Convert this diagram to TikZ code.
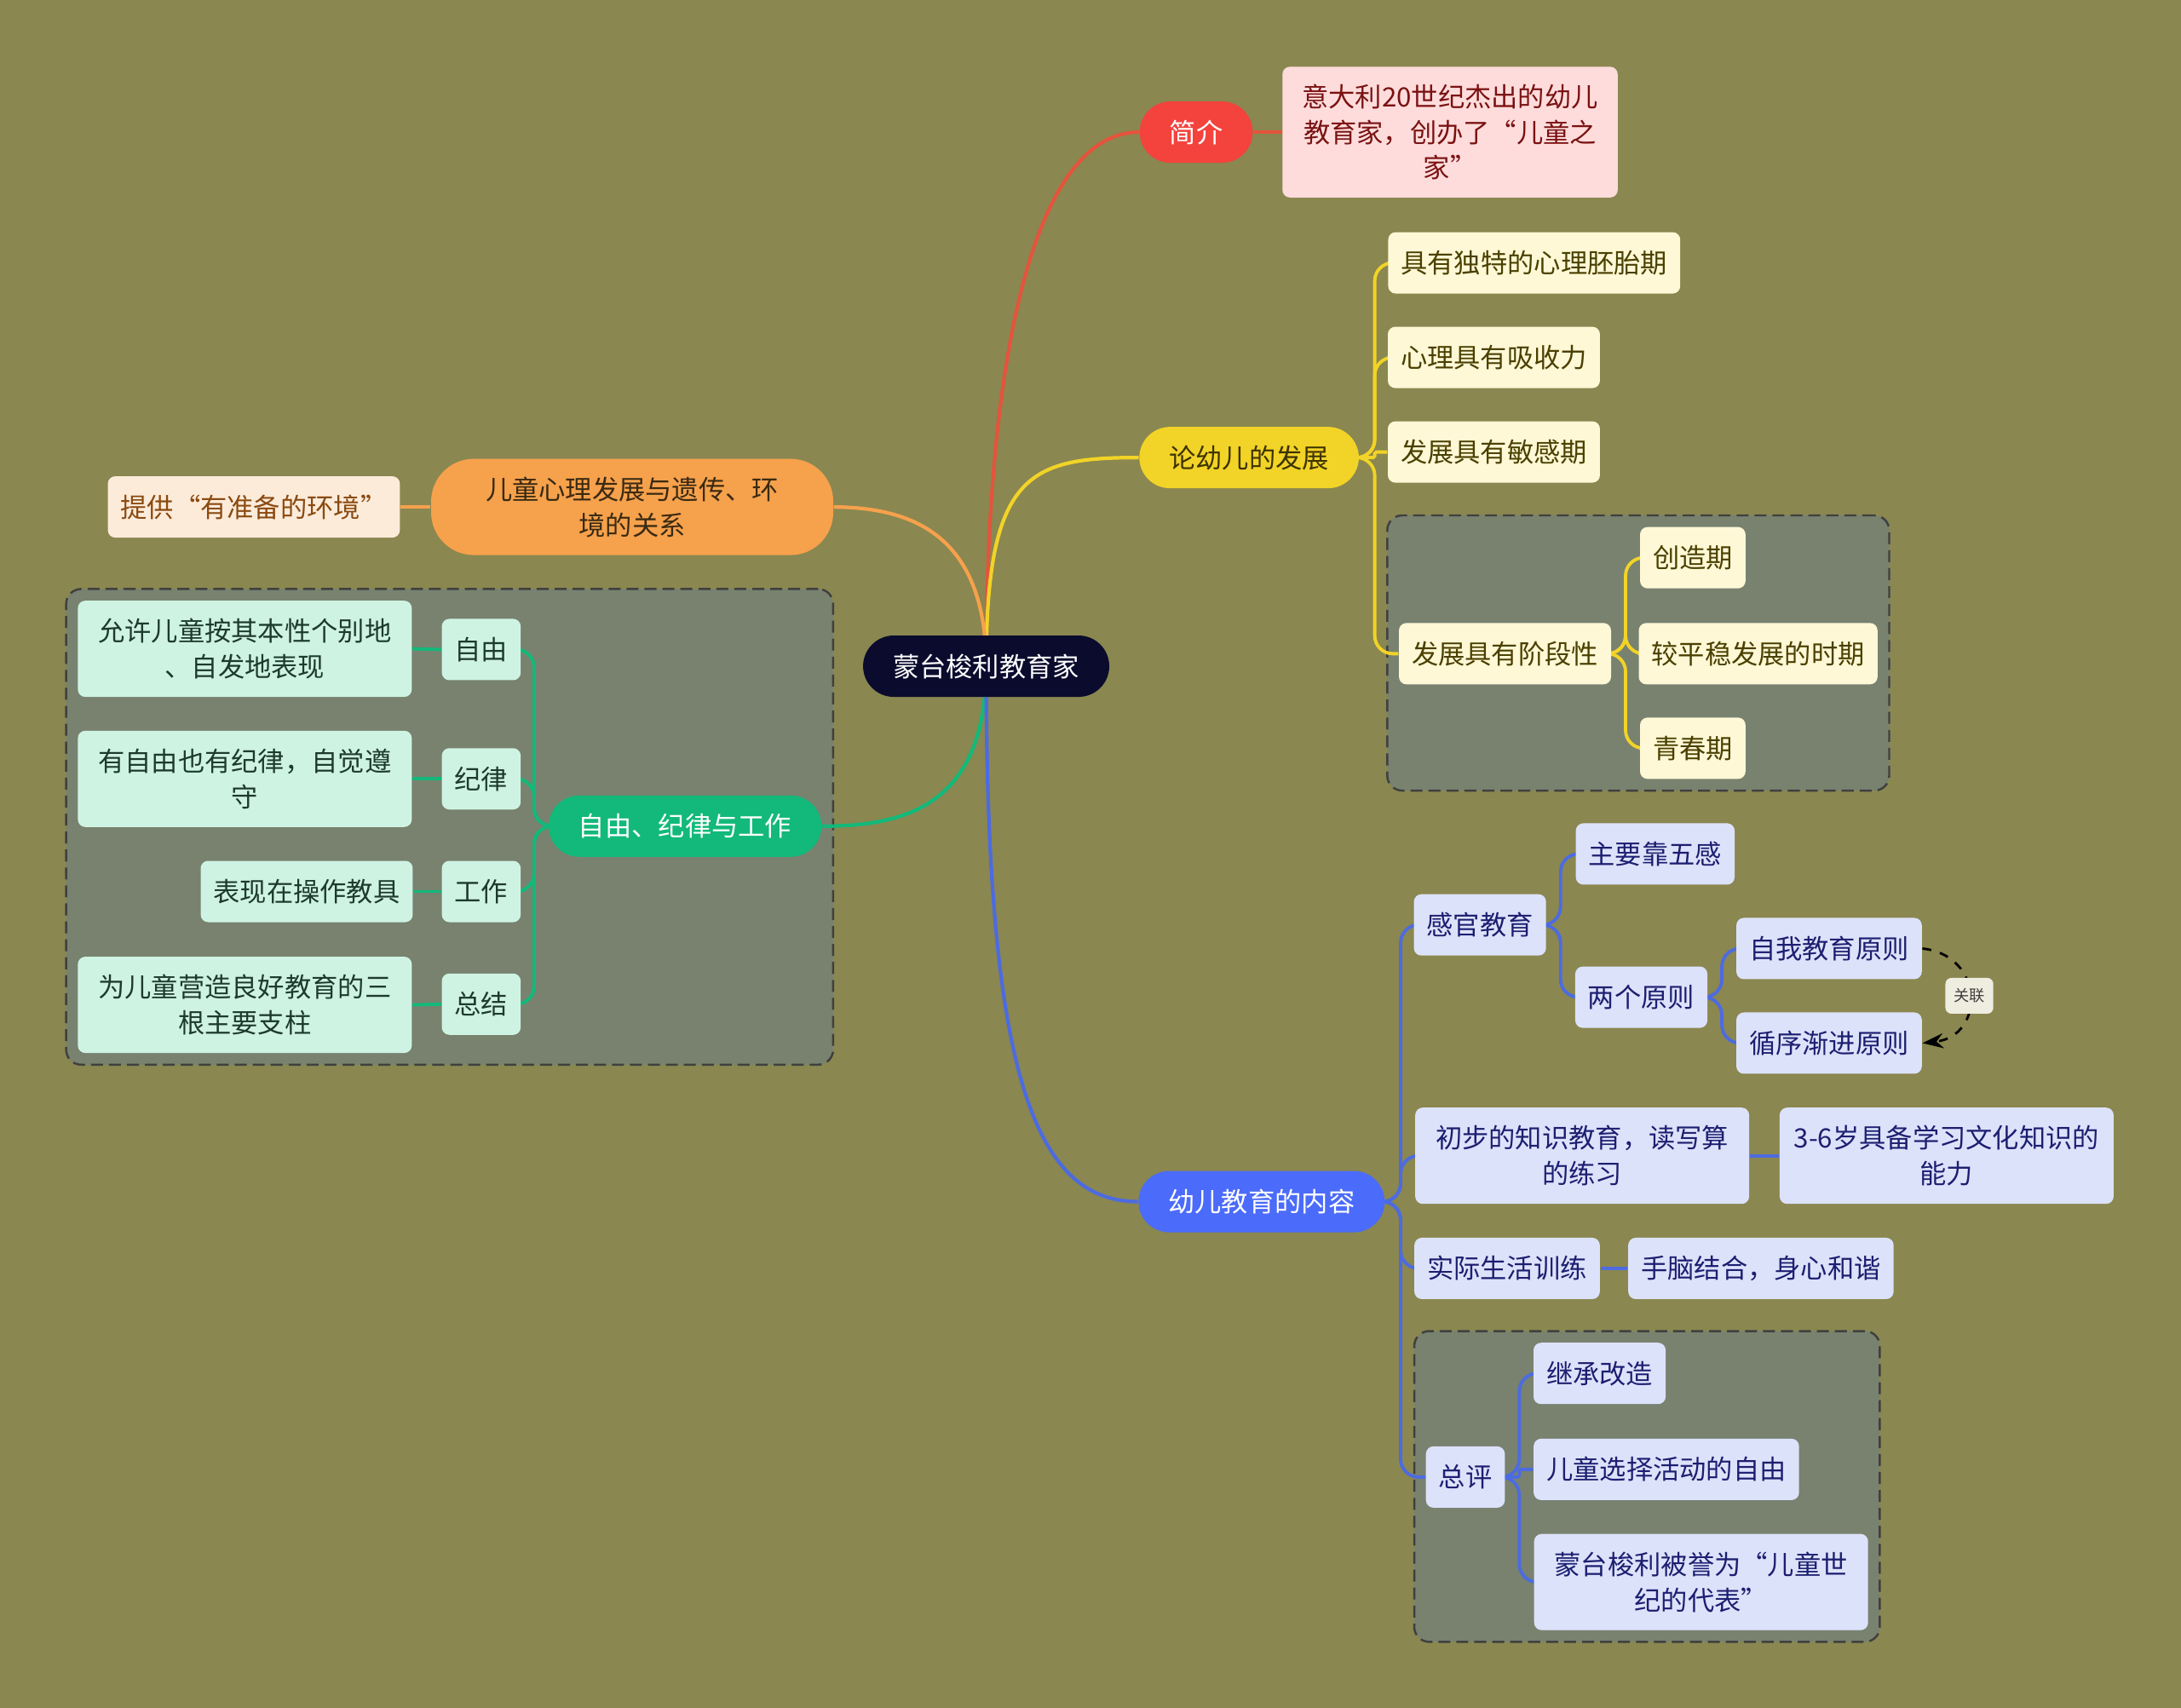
\documentclass[tikz,border=0pt]{standalone}
\usepackage{fontspec}
\setmainfont{Noto Sans CJK SC}
\usetikzlibrary{positioning, fit, arrows.meta, backgrounds}
\definecolor{bgolive}{HTML}{8A8750}
\definecolor{grpgreen}{HTML}{78826F}
\definecolor{rootc}{HTML}{0B0B2E}
\definecolor{redc}{HTML}{F4423D}
\definecolor{redline}{HTML}{E4543C}
\definecolor{pinkc}{HTML}{FFDCDC}
\definecolor{pinktxt}{HTML}{7A1212}
\definecolor{ylwc}{HTML}{F2D327}
\definecolor{ylwtxt}{HTML}{3D3300}
\definecolor{ylwleaf}{HTML}{FFF8D6}
\definecolor{ylwleaftxt}{HTML}{4A4000}
\definecolor{bluec}{HTML}{4B6BFA}
\definecolor{blueline}{HTML}{4D6BE0}
\definecolor{blueleaf}{HTML}{DDE2FB}
\definecolor{bluetxt}{HTML}{1C1F70}
\definecolor{orgc}{HTML}{F6A14C}
\definecolor{orgtxt}{HTML}{3A2A12}
\definecolor{peachc}{HTML}{FDEBDA}
\definecolor{peachtxt}{HTML}{8A4A10}
\definecolor{grnc}{HTML}{12B97A}
\definecolor{mintc}{HTML}{CFF3E3}
\definecolor{minttxt}{HTML}{1D3A2C}
\definecolor{relfill}{HTML}{EFEDDF}
\tikzset{
    base/.style={font=\fontsize{8.9}{12}\selectfont, align=center, inner ysep=0pt}, % all texts
    pill/.style={base, rounded corners=0.36cm, inner xsep=0.35cm, minimum height=0.72cm},
    leaf/.style={base, rounded corners=2.5pt, inner xsep=0.15cm, minimum height=0.72cm},
    tall/.style={minimum height=1.13cm, minimum width=3.92cm},
    grp/.style={draw=black!75, dash pattern=on 4pt off 2pt, line width=0.7pt, fill=grpgreen, rounded corners=5pt, inner sep=0.13cm},
    branch/.style={line width=1.2pt},
    twig/.style={line width=1.1pt, rounded corners=6pt},
}

\begin{document}
\begin{tikzpicture}[x=0.016327cm, y=-0.016327cm]
        \useasboundingbox (0,0) rectangle (1568,1228);

        % Root
        \node (root) [pill, fill=rootc, text=white] at (709,479) {蒙台梭利教育家};

        % Intro branch
        \node (jj) [pill, fill=redc, text=white] at (860,95) {简介};
        \node (jjd) [leaf, fill=pinkc, text=pinktxt, minimum width=3.935cm, minimum height=1.535cm,
            font=\fontsize{8.9}{11.8}\selectfont] at (1042.5,95) {意大利20世纪杰出的幼儿\\教育家，创办了“儿童之\\家”};

        % Development branch
        \node (fz) [pill, fill=ylwc, text=ylwtxt] at (898,329) {论幼儿的发展};
        \node (f1) [leaf, fill=ylwleaf, text=ylwleaftxt] at (1103,189) {具有独特的心理胚胎期};
        \node (f2) [leaf, fill=ylwleaf, text=ylwleaftxt] at (1074,257) {心理具有吸收力};
        \node (f3) [leaf, fill=ylwleaf, text=ylwleaftxt] at (1074,325) {发展具有敏感期};
        \node (f4) [leaf, fill=ylwleaf, text=ylwleaftxt] at (1082,470) {发展具有阶段性};
        \node (f41) [leaf, fill=ylwleaf, text=ylwleaftxt] at (1217,401) {创造期};
        \node (f42) [leaf, fill=ylwleaf, text=ylwleaftxt] at (1264,470) {较平稳发展的时期};
        \node (f43) [leaf, fill=ylwleaf, text=ylwleaftxt] at (1217,538) {青春期};

        % Content branch
        \node (jy) [pill, fill=bluec, text=white] at (907,864) {幼儿教育的内容};
        \node (g1) [leaf, fill=blueleaf, text=bluetxt] at (1064,665) {感官教育};
        \node (g11) [leaf, fill=blueleaf, text=bluetxt] at (1190,614) {主要靠五感};
        \node (g12) [leaf, fill=blueleaf, text=bluetxt] at (1180,717) {两个原则};
        \node (g121) [leaf, fill=blueleaf, text=bluetxt] at (1315,682) {自我教育原则};
        \node (g122) [leaf, fill=blueleaf, text=bluetxt] at (1315,750) {循序渐进原则};
        \node (g2) [leaf, tall, fill=blueleaf, text=bluetxt] at (1137.5,831) {初步的知识教育，读写算\\的练习};
        \node (g21) [leaf, tall, fill=blueleaf, text=bluetxt] at (1399.5,831) {3-6岁具备学习文化知识的\\能力};
        \node (g3) [leaf, fill=blueleaf, text=bluetxt] at (1083.5,912) {实际生活训练};
        \node (g31) [leaf, fill=blueleaf, text=bluetxt] at (1266,912) {手脑结合，身心和谐};
        \node (g4) [leaf, fill=blueleaf, text=bluetxt] at (1053.5,1062) {总评};
        \node (g41) [leaf, fill=blueleaf, text=bluetxt] at (1150,987.5) {继承改造};
        \node (g42) [leaf, fill=blueleaf, text=bluetxt] at (1198,1056.5) {儿童选择活动的自由};
        \node (g43) [leaf, tall, fill=blueleaf, text=bluetxt] at (1223,1137.5) {蒙台梭利被誉为“儿童世\\纪的代表”};

        % Heredity branch
        \node (hj) [pill, fill=orgc, text=orgtxt, rounded corners=0.5cm, minimum width=4.72cm, minimum height=1.13cm] at (454.5,364.5) {儿童心理发展与遗传、环\\境的关系};
        \node (hj1) [leaf, fill=peachc, text=peachtxt] at (182.5,364.5) {提供“有准备的环境”};

        % Freedom branch
        \node (zy) [pill, fill=grnc, text=white] at (492.5,594) {自由、纪律与工作};
        \node (z1) [leaf, fill=mintc, text=minttxt] at (346,467) {自由};
        \node (z2) [leaf, fill=mintc, text=minttxt] at (346,560) {纪律};
        \node (z3) [leaf, fill=mintc, text=minttxt] at (346,641) {工作};
        \node (z4) [leaf, fill=mintc, text=minttxt] at (346,722) {总结};
        \node (z11) [leaf, tall, fill=mintc, text=minttxt] at (176,466.5) {允许儿童按其本性个别地\\、自发地表现};
        \node (z21) [leaf, tall, fill=mintc, text=minttxt] at (176,560) {有自由也有纪律，自觉遵\\守};
        \node (z31) [leaf, fill=mintc, text=minttxt] at (220.5,641) {表现在操作教具};
        \node (z41) [leaf, tall, fill=mintc, text=minttxt] at (176,722.5) {为儿童营造良好教育的三\\根主要支柱};

        % Relation
        \draw [dashed, line width=0.8pt, -{Stealth[length=7pt, width=5pt]}] (g121.east) .. controls +(45,5) and +(45,-5) .. (g122.east)
            node [midway, fill=relfill, text=black!75, font=\fontsize{5.2}{6}\selectfont, rounded corners=2pt,
                  inner xsep=2.8pt, minimum height=0.42cm, inner ysep=0pt, solid] (gl) {关联};

        \begin{scope}[on background layer]
            \fill [bgolive] (0,0) rectangle (1568,1228);
            % Group boxes
            \node [grp, fit=(f4) (f41) (f42) (f43)] (box1) {};
            \node [grp, fit=(z11) (z41) (zy)] (box2) {};
            \node [grp, fit=(g4) (g41) (g43)] (box3) {};

            % Main branches
            \draw [branch, redline] (root.center) .. controls (709,250) and (745,95) .. (jj.west);
            \draw [branch, ylwc] (root.center) .. controls (709,340) and (740,329) .. (fz.west);
            \draw [branch, orgc] (root.center) .. controls (709,380) and (650,365) .. (hj.east);
            \draw [branch, grnc] (root.center) .. controls (709,580) and (650,594) .. (zy.east);
            \draw [branch, blueline] (root.center) .. controls (709,760) and (740,864) .. (jy.west);

            % Sub branches
            \draw [twig, redline] (jj.east) -- (jjd.west);
            \foreach \c/\r in {f1/6pt,f2/6pt,f3/0.5pt,f4/6pt}
                \draw [twig, ylwc, rounded corners=\r] (fz.east) -- ++(11,0) |- (\c.west);
            \foreach \c in {f41,f42,f43}
                \draw [twig, ylwc] (f4.east) -- ++(10,0) |- (\c.west);
            \draw [twig, orgc] (hj.west) -- (hj1.east);
            \foreach \c in {z1,z2,z3,z4}
                \draw [twig, grnc] (zy.west) -- ++(-10,0) |- (\c.east);
            \foreach \c/\d in {z1/z11,z2/z21,z3/z31,z4/z41}
                \draw [twig, grnc] (\c.west) -- (\d.east);
            \foreach \c in {g1,g2,g3,g4}
                \draw [twig, blueline] (jy.east) -- ++(11,0) |- (\c.west);
            \foreach \c in {g11,g12}
                \draw [twig, blueline] (g1.east) -- ++(10,0) |- (\c.west);
            \foreach \c in {g121,g122}
                \draw [twig, blueline] (g12.east) -- ++(10,0) |- (\c.west);
            \foreach \c/\r in {g41/6pt,g42/0.5pt,g43/6pt}
                \draw [twig, blueline, rounded corners=\r] (g4.east) -- ++(10,0) |- (\c.west);
            \draw [twig, blueline] (g2.east) -- (g21.west);
            \draw [twig, blueline] (g3.east) -- (g31.west);
        \end{scope}
\end{tikzpicture}
\end{document}
